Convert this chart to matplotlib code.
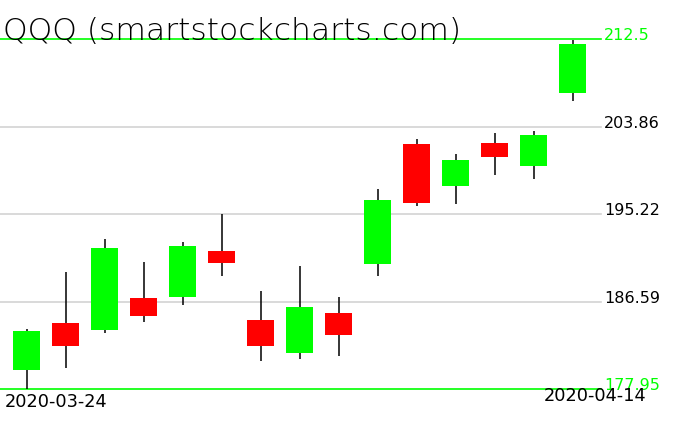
import matplotlib
matplotlib.use("Agg")
import matplotlib.pyplot as plt
from matplotlib.patches import Rectangle
import matplotlib.transforms as mtransforms

dates = ["2020-03-24", "2020-03-25", "2020-03-26", "2020-03-27", "2020-03-30",
         "2020-03-31", "2020-04-01", "2020-04-02", "2020-04-03", "2020-04-06",
         "2020-04-07", "2020-04-08", "2020-04-09", "2020-04-13", "2020-04-14"]
opens  = [179.86, 184.48, 183.82, 186.95, 187.08, 191.60, 184.78, 181.54, 185.47, 190.32,
          202.19, 198.04, 202.29, 199.95, 207.17]
highs  = [183.89, 189.50, 192.79, 190.49, 192.46, 195.20, 187.62, 190.12, 187.05, 197.74,
          202.69, 201.20, 203.28, 203.48, 212.48]
lows   = [177.95, 180.00, 183.52, 184.61, 186.29, 189.16, 180.75, 180.95, 181.24, 189.16,
          195.99, 196.19, 199.05, 198.73, 206.42]
closes = [183.69, 182.23, 191.90, 185.20, 192.10, 190.35, 182.23, 186.06, 183.32, 196.58,
          196.35, 200.61, 200.84, 203.08, 211.99]
price_levels = [212.5, 203.86, 195.22, 186.59, 177.95]
price_labels = ["212.5", "203.86", "195.22", "186.59", "177.95"]
title = "QQQ (smartstockcharts.com)"

W, H = 676, 431
fig = plt.figure(figsize=(W / 100, H / 100), dpi=100)
ax = fig.add_axes([0, (H - 390) / H, 601 / W, 349.7 / H])
ax.set_xlim(-0.68, 14.73)
ax.set_ylim(price_levels[-1], price_levels[0])
ax.axis("off")

GREEN = "#00ff00"
RED = "#ff0000"

for lvl in price_levels:
    if lvl in (price_levels[0], price_levels[-1]):
        ax.axhline(lvl, color=GREEN, lw=1.2, zorder=1, clip_on=False)
    else:
        ax.axhline(lvl, color="#d3d3d3", lw=1.2, zorder=1, clip_on=False)

bw = 0.69
for i, (o, h, l, c) in enumerate(zip(opens, highs, lows, closes)):
    ax.plot([i, i], [l, h], color="black", lw=1.1, zorder=2, clip_on=False,
            solid_capstyle="butt")
    col = GREEN if c >= o else RED
    ax.add_patch(Rectangle((i - bw / 2, min(o, c)), bw, abs(c - o),
                           facecolor=col, edgecolor="none", zorder=3, clip_on=False))

tr = mtransforms.blended_transform_factory(fig.transFigure, ax.transData)
for lvl, lab in zip(price_levels, price_labels):
    col = GREEN if lvl in (price_levels[0], price_levels[-1]) else "black"
    ax.text(604 / W, lvl, lab, transform=tr, ha="left", va="baseline",
            fontsize=11.5, color=col, family="DejaVu Sans")

fig.text(3 / W, 1 - 40 / H, title, ha="left", va="baseline", fontsize=22.6,
         family="DejaVu Sans", color="black", fontweight="light")
fig.text(5 / W, 1 - 407 / H, dates[0], ha="left", va="baseline", fontsize=12.8,
         family="DejaVu Sans", color="black")
fig.text(646 / W, 1 - 401.5 / H, dates[-1], ha="right", va="baseline", fontsize=12.8,
         family="DejaVu Sans", color="black")

fig.savefig("out.png", dpi=100)
